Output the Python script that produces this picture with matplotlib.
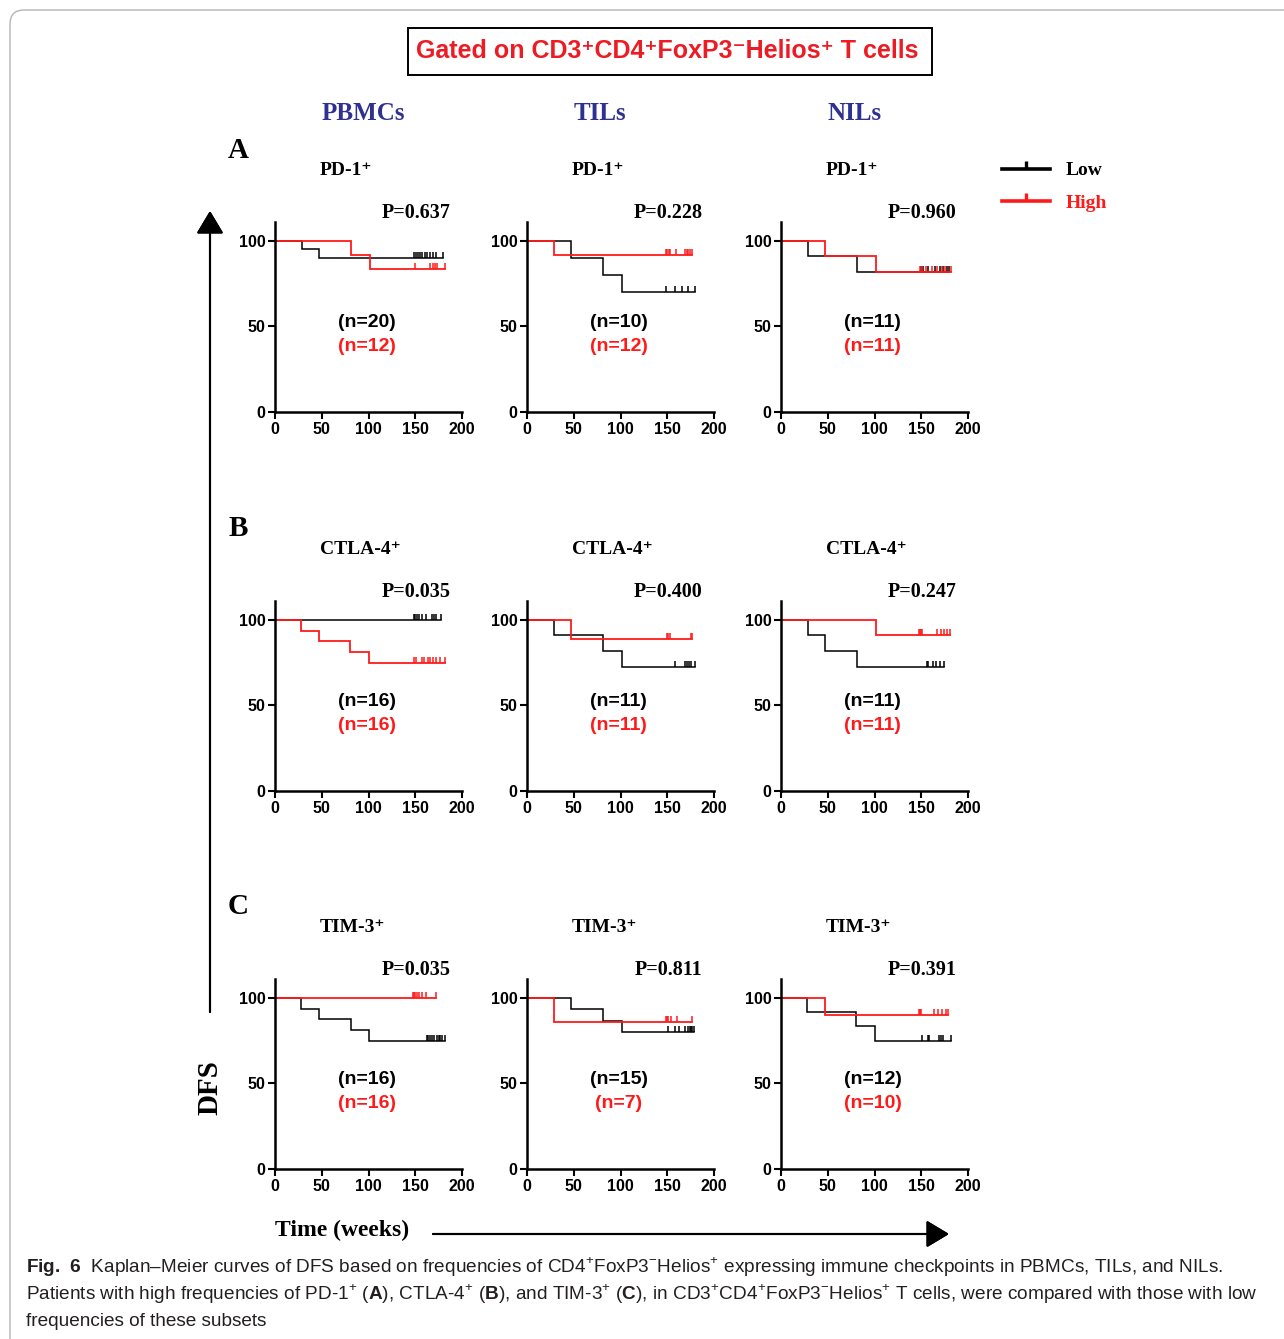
import numpy as np
import matplotlib.pyplot as plt
from matplotlib.lines import Line2D
from matplotlib.path import Path
from matplotlib.patches import FancyBboxPatch, Rectangle
from matplotlib.transforms import IdentityTransform

W, H = 1284, 1339

# (event weeks, survival % after each event, censor weeks; last censor = end of follow-up)
pbmc_pd1_low = ([29, 47], [95.0, 90.0], [149, 151, 153, 155, 157, 160, 163, 166, 169, 172, 180])
pbmc_pd1_high = ([81, 102], [91.7, 83.3], [150, 166, 169, 171, 173, 182])
til_pd1_low = ([47, 81, 102], [90.0, 80.0, 70.0], [149, 158, 166, 172, 180])
til_pd1_high = ([29], [91.7], [149, 150, 152, 153, 159, 169, 171, 172, 174, 176])
nil_pd1_low = ([29, 81], [90.9, 81.8], [150, 152, 157, 165, 170, 173, 178, 180])
nil_pd1_high = ([47, 102], [90.9, 81.8], [149, 151, 155, 161, 167, 172, 175, 182])

pbmc_ctla4_low = ([], [], [149, 150, 152, 154, 157, 162, 168, 170, 172, 178])
pbmc_ctla4_high = ([28, 47, 80, 101], [93.75, 87.5, 81.25, 75.0], [149, 151, 157, 159, 164, 166, 169, 172, 177, 182])
til_ctla4_low = ([29, 81, 102], [90.9, 81.8, 72.7], [158, 169, 171, 173, 175, 180])
til_ctla4_high = ([47], [88.9], [150, 151, 153, 175, 176])
nil_ctla4_low = ([29, 47, 81], [90.9, 81.8, 72.7], [156, 157, 163, 166, 170, 174])
nil_ctla4_high = ([102], [90.9], [148, 149, 150, 151, 167, 171, 174, 178, 181])

pbmc_tim3_low = ([28, 47, 81, 101], [93.75, 87.5, 81.25, 75.0], [163, 164, 166, 168, 170, 173, 175, 177, 179, 182])
pbmc_tim3_high = ([], [], [148, 149, 150, 152, 154, 157, 162, 172])
til_tim3_low = ([47, 81, 102], [93.3, 86.7, 80.0], [151, 158, 163, 169, 172, 174, 175, 177, 179])
til_tim3_high = ([29], [85.7], [149, 150, 151, 154, 160, 176])
nil_tim3_low = ([28, 80, 101], [91.7, 83.3, 75.0], [151, 157, 158, 169, 171, 173, 182])
nil_tim3_high = ([47], [90.0], [148, 149, 150, 164, 168, 172, 176, 179])

sources = ["PBMCs", "TILs", "NILs"]
checkpoints = ["PD-1\u207a", "CTLA-4\u207a", "TIM-3\u207a"]
row_letters = ["A", "B", "C"]
p_values = [["0.637", "0.228", "0.960"],
            ["0.035", "0.400", "0.247"],
            ["0.035", "0.811", "0.391"]]
n_low = [[20, 10, 11], [16, 11, 11], [16, 15, 12]]
n_high = [[12, 12, 11], [16, 11, 11], [16, 7, 10]]
curves = [[(pbmc_pd1_low, pbmc_pd1_high), (til_pd1_low, til_pd1_high), (nil_pd1_low, nil_pd1_high)],
          [(pbmc_ctla4_low, pbmc_ctla4_high), (til_ctla4_low, til_ctla4_high), (nil_ctla4_low, nil_ctla4_high)],
          [(pbmc_tim3_low, pbmc_tim3_high), (til_tim3_low, til_tim3_high), (nil_tim3_low, nil_tim3_high)]]

SANS = ["Liberation Sans", "DejaVu Sans"]
SERIF = ["Liberation Serif", "DejaVu Serif"]
RED = "#ff1a1a"
NAVY = "#2e3192"

plt.rcParams["font.family"] = SANS
plt.rcParams["mathtext.fontset"] = "custom"
plt.rcParams["mathtext.rm"] = "Liberation Sans"
plt.rcParams["mathtext.bf"] = "Liberation Sans:bold"

tick = Path([(0, 0), (0, 1)])


def fx(px):
    return px / W


def fy(py):
    return 1 - py / H


def km(ax, curve, color, lw):
    t, s, c = curve
    end = max(c)
    xs = [0] + list(t) + [end]
    ys = [100.0] + list(s) + [s[-1] if s else 100.0]
    ax.step(xs, ys, where="post", color=color, lw=lw, solid_joinstyle="miter")
    cy = [ys[np.searchsorted(xs, v, side="right") - 1] for v in c]
    ax.plot(c, cy, ls="none", marker=tick, ms=9, mew=1.1, color=color)


fig = plt.figure(figsize=(W / 100, H / 100), dpi=100)

# outer frame (display pixels, origin bottom-left)
fig.add_artist(FancyBboxPatch((10, -40), 1320, H - 10 + 40, boxstyle="round,pad=0,rounding_size=14",
                              transform=IdentityTransform(), fc="none", ec="#b5b5b5", lw=1.0))

col_x0 = [275, 527, 781]
row_y0 = [412, 791, 1169]
ax_w, ax_h = 187, 190

for r in range(3):
    for c in range(3):
        ax = fig.add_axes([fx(col_x0[c]), fy(row_y0[r]), ax_w / W, ax_h / H])
        low, high = curves[r][c]
        km(ax, low, "black", 1.1)
        km(ax, high, RED, 1.3)
        ax.set_xlim(0, 200)
        ax.set_ylim(0, 111)
        ax.set_xticks([0, 50, 100, 150, 200])
        ax.set_yticks([0, 50, 100])
        for sp in ["top", "right"]:
            ax.spines[sp].set_visible(False)
        for sp in ["left", "bottom"]:
            ax.spines[sp].set_linewidth(1.8)
        ax.tick_params(direction="out", length=5, width=1.5, labelsize=11.5, pad=2)
        for lbl in ax.get_xticklabels() + ax.get_yticklabels():
            lbl.set_fontweight("bold")
        ax.text(98, 52.5, f"(n={n_low[r][c]})", ha="center", va="center", fontsize=14,
                fontweight="bold", color="black")
        ax.text(98, 38, f"(n={n_high[r][c]})", ha="center", va="center", fontsize=14,
                fontweight="bold", color=RED)
        ax.text(151, 116.5, f"P={p_values[r][c]}", ha="center", va="center", fontsize=14.5,
                fontweight="bold", family=SERIF, clip_on=False)
        ax.text(48, 141, checkpoints[r], ha="left", va="center", fontsize=14,
                fontweight="bold", family=SERIF, clip_on=False)
    fig.text(fx(238), fy(row_y0[r] - ax_h - 72), row_letters[r], ha="center", va="center",
             fontsize=21, fontweight="bold", family=SERIF)

for name, x in zip(sources, [363, 600, 855]):
    fig.text(fx(x), fy(114), name, ha="center", va="center", fontsize=18,
             fontweight="bold", family=SERIF, color=NAVY)

# title box
fig.add_artist(Rectangle((fx(408), fy(75)), (932 - 408) / W, 47 / H, transform=fig.transFigure,
                         fc="none", ec="black", lw=1.4))
fig.text(fx(667), fy(51), "Gated on CD3\u207aCD4\u207aFoxP3\u207bHelios\u207a T cells", ha="center",
         va="center", fontsize=18, fontweight="bold", color="#ed1c24")

# legend
handles = [Line2D([], [], color="black", lw=2.6, marker=tick, ms=12, mew=2.4),
           Line2D([], [], color=RED, lw=2.6, marker=tick, ms=12, mew=2.4)]
fig.legend(handles, ["Low", "High"], loc="upper left", bbox_to_anchor=(fx(992), fy(152)),
           frameon=False, handlelength=2.5, handletextpad=0.8, labelspacing=0.78, borderpad=0,
           prop={"family": SERIF, "weight": "bold", "size": 14}, labelcolor=["black", RED])

# axis arrows
arrow = dict(arrowstyle="-|>,head_length=1.0,head_width=0.6", mutation_scale=14,
             lw=1.5, color="black", shrinkA=0, shrinkB=0)
fig.add_artist(plt.annotate("", xy=(210, H - 211), xytext=(210, H - 1012), xycoords="figure pixels",
                            arrowprops=arrow))
fig.add_artist(plt.annotate("", xy=(949, H - 1234), xytext=(433, H - 1234), xycoords="figure pixels",
                            arrowprops=arrow))
fig.text(fx(210), fy(1088), "DFS", rotation=90, ha="center", va="center", fontsize=21,
         fontweight="bold", family=SERIF)
fig.text(fx(275), fy(1230), "Time (weeks)", ha="left", va="center", fontsize=17,
         fontweight="bold", family=SERIF)

# caption
cap = [r"$\mathbf{Fig.\ 6}$  Kaplan–Meier curves of DFS based on frequencies of CD4$^{+}$FoxP3$^{-}$Helios$^{+}$"
       r" expressing immune checkpoints in PBMCs, TILs, and NILs.",
       r"Patients with high frequencies of PD-1$^{+}$ ($\mathbf{A}$), CTLA-4$^{+}$ ($\mathbf{B}$), and TIM-3$^{+}$"
       r" ($\mathbf{C}$), in CD3$^{+}$CD4$^{+}$FoxP3$^{-}$Helios$^{+}$ T cells, were compared with those with low",
       "frequencies of these subsets"]
for i, line in enumerate(cap):
    fig.text(fx(26), fy(1267 + 27 * i), line, ha="left", va="center", fontsize=13.7,
             fontweight="normal", color="#231f20")

fig.savefig("out.png", dpi=100)
